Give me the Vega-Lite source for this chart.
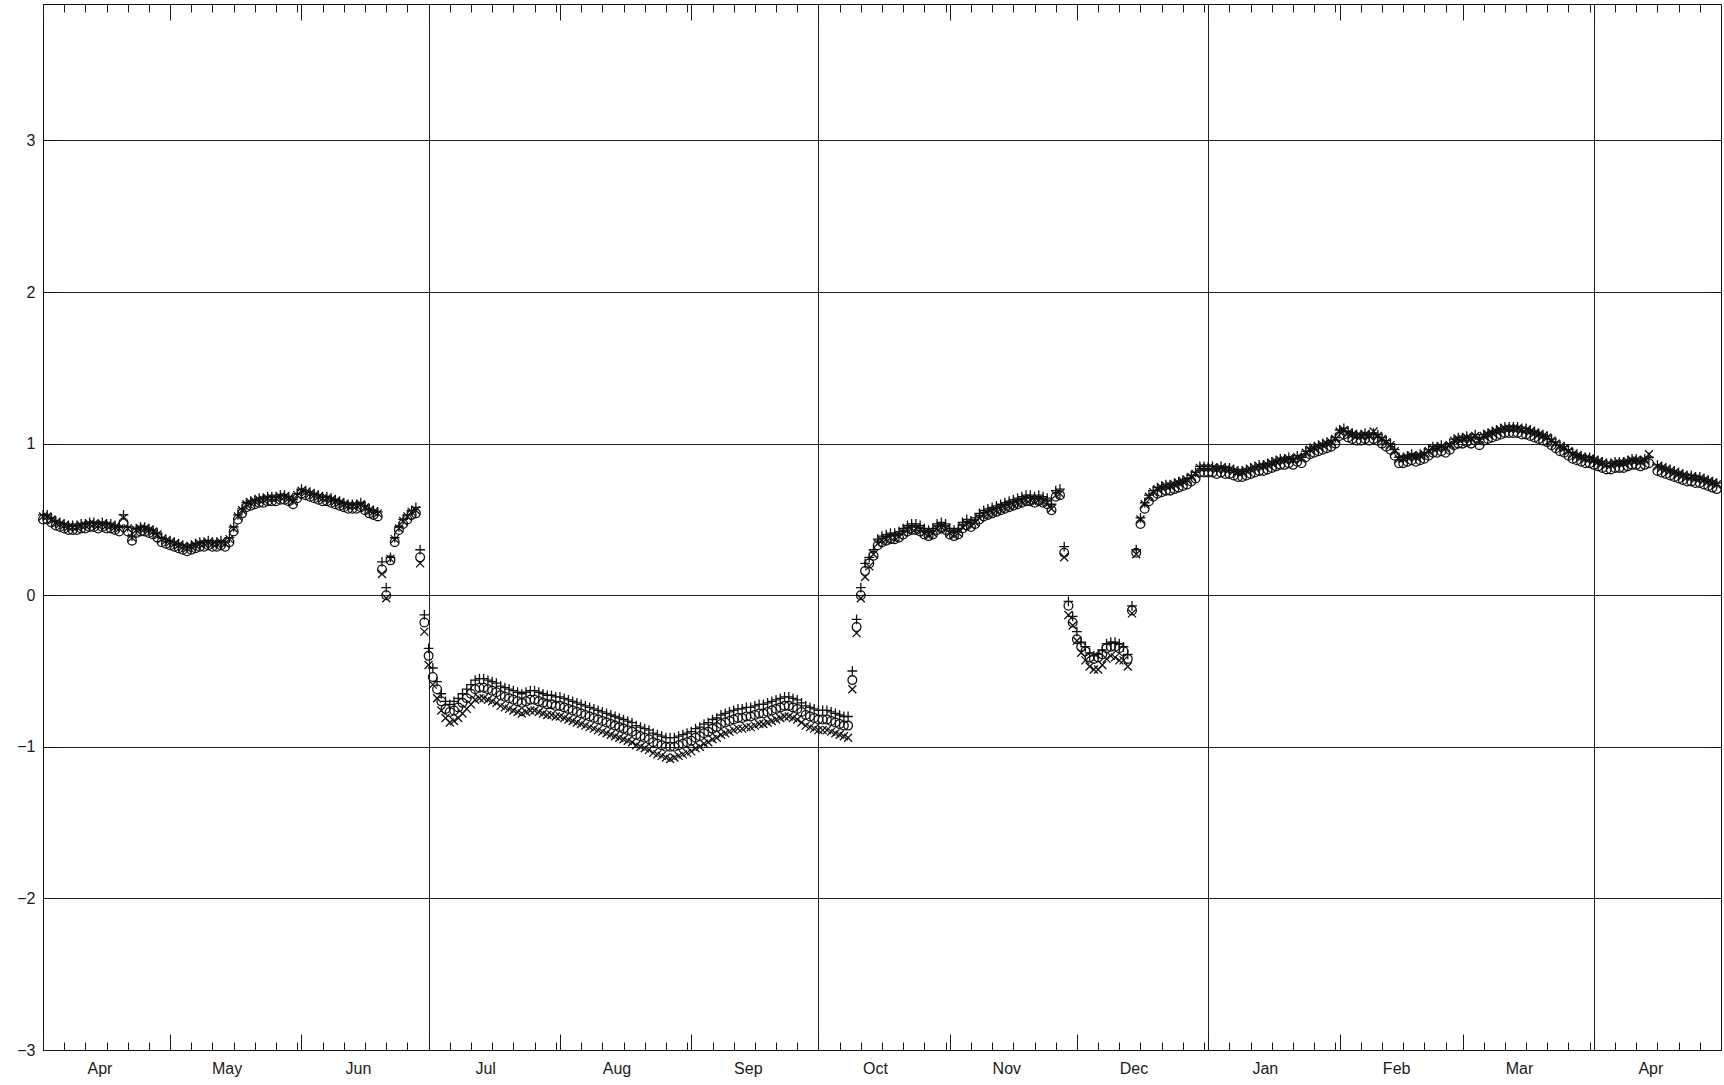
{
"$schema": "https://vega.github.io/schema/vega-lite/v6.json",
"width": 1678, "height": 1046,
"autosize": {"type": "none"},
"padding": {"left": 43, "top": 4, "right": 3, "bottom": 35},
"background": "white",
"config": {
 "view": {"stroke": "#111", "strokeWidth": 1},
 "axis": {"domain": false, "title": null, "labelFont": "Liberation Sans", "labelFontSize": 16, "labelColor": "#1a1a1a", "tickColor": "#1a1a1a", "tickWidth": 1, "gridColor": "#222", "gridWidth": 1, "gridOpacity": 1, "labelOverlap": false, "labelFlush": false, "labelBound": false}
},
"data": {"values": [
{"d":"2011-04-01","p":0.53,"o":0.50,"x":0.52},
{"d":"2011-04-02","p":0.53,"o":0.50,"x":0.52},
{"d":"2011-04-03","p":0.51,"o":0.48,"x":0.50},
{"d":"2011-04-04","p":0.49,"o":0.46,"x":0.48},
{"d":"2011-04-05","p":0.48,"o":0.45,"x":0.47},
{"d":"2011-04-06","p":0.47,"o":0.44,"x":0.46},
{"d":"2011-04-07","p":0.46,"o":0.43,"x":0.45},
{"d":"2011-04-08","p":0.46,"o":0.43,"x":0.45},
{"d":"2011-04-09","p":0.46,"o":0.43,"x":0.45},
{"d":"2011-04-10","p":0.47,"o":0.44,"x":0.46},
{"d":"2011-04-11","p":0.47,"o":0.44,"x":0.46},
{"d":"2011-04-12","p":0.48,"o":0.45,"x":0.47},
{"d":"2011-04-13","p":0.48,"o":0.45,"x":0.47},
{"d":"2011-04-14","p":0.47,"o":0.44,"x":0.46},
{"d":"2011-04-15","p":0.48,"o":0.45,"x":0.47},
{"d":"2011-04-16","p":0.47,"o":0.44,"x":0.46},
{"d":"2011-04-17","p":0.47,"o":0.44,"x":0.46},
{"d":"2011-04-18","p":0.46,"o":0.43,"x":0.45},
{"d":"2011-04-19","p":0.45,"o":0.42,"x":0.44},
{"d":"2011-04-20","p":0.53,"o":0.48,"x":0.51},
{"d":"2011-04-21","p":0.45,"o":0.42,"x":0.44},
{"d":"2011-04-22","p":0.39,"o":0.36,"x":0.38},
{"d":"2011-04-23","p":0.44,"o":0.41,"x":0.43},
{"d":"2011-04-24","p":0.45,"o":0.42,"x":0.44},
{"d":"2011-04-25","p":0.45,"o":0.42,"x":0.44},
{"d":"2011-04-26","p":0.44,"o":0.41,"x":0.43},
{"d":"2011-04-27","p":0.43,"o":0.40,"x":0.42},
{"d":"2011-04-28","p":0.41,"o":0.38,"x":0.40},
{"d":"2011-04-29","p":0.38,"o":0.35,"x":0.37},
{"d":"2011-04-30","p":0.37,"o":0.34,"x":0.36},
{"d":"2011-05-01","p":0.36,"o":0.33,"x":0.35},
{"d":"2011-05-02","p":0.35,"o":0.32,"x":0.34},
{"d":"2011-05-03","p":0.34,"o":0.31,"x":0.33},
{"d":"2011-05-04","p":0.33,"o":0.30,"x":0.32},
{"d":"2011-05-05","p":0.32,"o":0.29,"x":0.31},
{"d":"2011-05-06","p":0.33,"o":0.30,"x":0.32},
{"d":"2011-05-07","p":0.34,"o":0.31,"x":0.33},
{"d":"2011-05-08","p":0.35,"o":0.32,"x":0.34},
{"d":"2011-05-09","p":0.35,"o":0.32,"x":0.34},
{"d":"2011-05-10","p":0.36,"o":0.33,"x":0.35},
{"d":"2011-05-11","p":0.35,"o":0.32,"x":0.34},
{"d":"2011-05-12","p":0.35,"o":0.32,"x":0.34},
{"d":"2011-05-13","p":0.36,"o":0.33,"x":0.35},
{"d":"2011-05-14","p":0.35,"o":0.32,"x":0.34},
{"d":"2011-05-15","p":0.38,"o":0.35,"x":0.37},
{"d":"2011-05-16","p":0.45,"o":0.42,"x":0.44},
{"d":"2011-05-17","p":0.53,"o":0.50,"x":0.52},
{"d":"2011-05-18","p":0.57,"o":0.54,"x":0.56},
{"d":"2011-05-19","p":0.61,"o":0.58,"x":0.60},
{"d":"2011-05-20","p":0.62,"o":0.59,"x":0.61},
{"d":"2011-05-21","p":0.63,"o":0.60,"x":0.62},
{"d":"2011-05-22","p":0.64,"o":0.61,"x":0.63},
{"d":"2011-05-23","p":0.64,"o":0.61,"x":0.63},
{"d":"2011-05-24","p":0.65,"o":0.62,"x":0.64},
{"d":"2011-05-25","p":0.65,"o":0.62,"x":0.64},
{"d":"2011-05-26","p":0.65,"o":0.62,"x":0.64},
{"d":"2011-05-27","p":0.66,"o":0.63,"x":0.65},
{"d":"2011-05-28","p":0.66,"o":0.63,"x":0.65},
{"d":"2011-05-29","p":0.65,"o":0.62,"x":0.64},
{"d":"2011-05-30","p":0.63,"o":0.60,"x":0.62},
{"d":"2011-05-31","p":0.67,"o":0.64,"x":0.66},
{"d":"2011-06-01","p":0.70,"o":0.67,"x":0.69},
{"d":"2011-06-02","p":0.69,"o":0.66,"x":0.68},
{"d":"2011-06-03","p":0.68,"o":0.65,"x":0.67},
{"d":"2011-06-04","p":0.67,"o":0.64,"x":0.66},
{"d":"2011-06-05","p":0.66,"o":0.63,"x":0.65},
{"d":"2011-06-06","p":0.65,"o":0.62,"x":0.64},
{"d":"2011-06-07","p":0.65,"o":0.62,"x":0.64},
{"d":"2011-06-08","p":0.64,"o":0.61,"x":0.63},
{"d":"2011-06-09","p":0.63,"o":0.60,"x":0.62},
{"d":"2011-06-10","p":0.62,"o":0.59,"x":0.61},
{"d":"2011-06-11","p":0.61,"o":0.58,"x":0.60},
{"d":"2011-06-12","p":0.60,"o":0.57,"x":0.59},
{"d":"2011-06-13","p":0.60,"o":0.57,"x":0.59},
{"d":"2011-06-14","p":0.60,"o":0.57,"x":0.59},
{"d":"2011-06-15","p":0.61,"o":0.58,"x":0.60},
{"d":"2011-06-16","p":0.59,"o":0.56,"x":0.58},
{"d":"2011-06-17","p":0.57,"o":0.54,"x":0.56},
{"d":"2011-06-18","p":0.56,"o":0.53,"x":0.55},
{"d":"2011-06-19","p":0.55,"o":0.52,"x":0.54},
{"d":"2011-06-20","p":0.22,"o":0.17,"x":0.14},
{"d":"2011-06-21","p":0.05,"o":0.00,"x":-0.02},
{"d":"2011-06-22","p":0.25,"o":0.23,"x":0.24},
{"d":"2011-06-23","p":0.38,"o":0.35,"x":0.37},
{"d":"2011-06-24","p":0.45,"o":0.43,"x":0.44},
{"d":"2011-06-25","p":0.50,"o":0.47,"x":0.49},
{"d":"2011-06-26","p":0.53,"o":0.50,"x":0.52},
{"d":"2011-06-27","p":0.56,"o":0.53,"x":0.55},
{"d":"2011-06-28","p":0.58,"o":0.54,"x":0.56},
{"d":"2011-06-29","p":0.30,"o":0.25,"x":0.21},
{"d":"2011-06-30","p":-0.13,"o":-0.18,"x":-0.24},
{"d":"2011-07-01","p":-0.35,"o":-0.40,"x":-0.46},
{"d":"2011-07-02","p":-0.48,"o":-0.54,"x":-0.59},
{"d":"2011-07-03","p":-0.57,"o":-0.62,"x":-0.68},
{"d":"2011-07-04","p":-0.65,"o":-0.70,"x":-0.76},
{"d":"2011-07-05","p":-0.70,"o":-0.75,"x":-0.81},
{"d":"2011-07-06","p":-0.72,"o":-0.77,"x":-0.84},
{"d":"2011-07-07","p":-0.70,"o":-0.76,"x":-0.83},
{"d":"2011-07-08","p":-0.68,"o":-0.74,"x":-0.81},
{"d":"2011-07-09","p":-0.65,"o":-0.71,"x":-0.78},
{"d":"2011-07-10","p":-0.62,"o":-0.68,"x":-0.75},
{"d":"2011-07-11","p":-0.59,"o":-0.65,"x":-0.72},
{"d":"2011-07-12","p":-0.56,"o":-0.62,"x":-0.69},
{"d":"2011-07-13","p":-0.55,"o":-0.61,"x":-0.68},
{"d":"2011-07-14","p":-0.55,"o":-0.61,"x":-0.68},
{"d":"2011-07-15","p":-0.56,"o":-0.62,"x":-0.69},
{"d":"2011-07-16","p":-0.57,"o":-0.63,"x":-0.70},
{"d":"2011-07-17","p":-0.58,"o":-0.64,"x":-0.71},
{"d":"2011-07-18","p":-0.60,"o":-0.66,"x":-0.73},
{"d":"2011-07-19","p":-0.61,"o":-0.67,"x":-0.74},
{"d":"2011-07-20","p":-0.62,"o":-0.68,"x":-0.75},
{"d":"2011-07-21","p":-0.63,"o":-0.69,"x":-0.76},
{"d":"2011-07-22","p":-0.64,"o":-0.70,"x":-0.77},
{"d":"2011-07-23","p":-0.65,"o":-0.71,"x":-0.78},
{"d":"2011-07-24","p":-0.64,"o":-0.70,"x":-0.77},
{"d":"2011-07-25","p":-0.63,"o":-0.69,"x":-0.76},
{"d":"2011-07-26","p":-0.63,"o":-0.69,"x":-0.76},
{"d":"2011-07-27","p":-0.64,"o":-0.70,"x":-0.77},
{"d":"2011-07-28","p":-0.65,"o":-0.71,"x":-0.78},
{"d":"2011-07-29","p":-0.66,"o":-0.72,"x":-0.79},
{"d":"2011-07-30","p":-0.66,"o":-0.72,"x":-0.79},
{"d":"2011-07-31","p":-0.67,"o":-0.73,"x":-0.80},
{"d":"2011-08-01","p":-0.67,"o":-0.73,"x":-0.80},
{"d":"2011-08-02","p":-0.68,"o":-0.74,"x":-0.81},
{"d":"2011-08-03","p":-0.69,"o":-0.75,"x":-0.82},
{"d":"2011-08-04","p":-0.70,"o":-0.76,"x":-0.83},
{"d":"2011-08-05","p":-0.71,"o":-0.77,"x":-0.84},
{"d":"2011-08-06","p":-0.72,"o":-0.78,"x":-0.85},
{"d":"2011-08-07","p":-0.73,"o":-0.79,"x":-0.86},
{"d":"2011-08-08","p":-0.74,"o":-0.80,"x":-0.87},
{"d":"2011-08-09","p":-0.75,"o":-0.81,"x":-0.88},
{"d":"2011-08-10","p":-0.76,"o":-0.82,"x":-0.89},
{"d":"2011-08-11","p":-0.77,"o":-0.83,"x":-0.90},
{"d":"2011-08-12","p":-0.78,"o":-0.84,"x":-0.91},
{"d":"2011-08-13","p":-0.79,"o":-0.85,"x":-0.92},
{"d":"2011-08-14","p":-0.80,"o":-0.86,"x":-0.93},
{"d":"2011-08-15","p":-0.81,"o":-0.87,"x":-0.94},
{"d":"2011-08-16","p":-0.82,"o":-0.88,"x":-0.95},
{"d":"2011-08-17","p":-0.83,"o":-0.89,"x":-0.96},
{"d":"2011-08-18","p":-0.84,"o":-0.90,"x":-0.97},
{"d":"2011-08-19","p":-0.86,"o":-0.92,"x":-0.99},
{"d":"2011-08-20","p":-0.87,"o":-0.93,"x":-1.00},
{"d":"2011-08-21","p":-0.88,"o":-0.94,"x":-1.01},
{"d":"2011-08-22","p":-0.89,"o":-0.95,"x":-1.02},
{"d":"2011-08-23","p":-0.91,"o":-0.97,"x":-1.04},
{"d":"2011-08-24","p":-0.92,"o":-0.98,"x":-1.05},
{"d":"2011-08-25","p":-0.93,"o":-0.99,"x":-1.06},
{"d":"2011-08-26","p":-0.94,"o":-1.00,"x":-1.07},
{"d":"2011-08-27","p":-0.94,"o":-1.00,"x":-1.08},
{"d":"2011-08-28","p":-0.94,"o":-1.00,"x":-1.07},
{"d":"2011-08-29","p":-0.93,"o":-0.99,"x":-1.06},
{"d":"2011-08-30","p":-0.92,"o":-0.98,"x":-1.05},
{"d":"2011-08-31","p":-0.91,"o":-0.97,"x":-1.04},
{"d":"2011-09-01","p":-0.90,"o":-0.96,"x":-1.03},
{"d":"2011-09-02","p":-0.88,"o":-0.94,"x":-1.01},
{"d":"2011-09-03","p":-0.87,"o":-0.93,"x":-1.00},
{"d":"2011-09-04","p":-0.85,"o":-0.91,"x":-0.98},
{"d":"2011-09-05","p":-0.84,"o":-0.90,"x":-0.97},
{"d":"2011-09-06","p":-0.82,"o":-0.88,"x":-0.95},
{"d":"2011-09-07","p":-0.81,"o":-0.87,"x":-0.94},
{"d":"2011-09-08","p":-0.79,"o":-0.85,"x":-0.92},
{"d":"2011-09-09","p":-0.78,"o":-0.84,"x":-0.91},
{"d":"2011-09-10","p":-0.77,"o":-0.83,"x":-0.90},
{"d":"2011-09-11","p":-0.76,"o":-0.82,"x":-0.89},
{"d":"2011-09-12","p":-0.75,"o":-0.81,"x":-0.88},
{"d":"2011-09-13","p":-0.75,"o":-0.81,"x":-0.88},
{"d":"2011-09-14","p":-0.74,"o":-0.80,"x":-0.87},
{"d":"2011-09-15","p":-0.74,"o":-0.80,"x":-0.87},
{"d":"2011-09-16","p":-0.73,"o":-0.79,"x":-0.86},
{"d":"2011-09-17","p":-0.72,"o":-0.78,"x":-0.85},
{"d":"2011-09-18","p":-0.72,"o":-0.78,"x":-0.85},
{"d":"2011-09-19","p":-0.71,"o":-0.77,"x":-0.84},
{"d":"2011-09-20","p":-0.70,"o":-0.76,"x":-0.83},
{"d":"2011-09-21","p":-0.69,"o":-0.75,"x":-0.82},
{"d":"2011-09-22","p":-0.68,"o":-0.74,"x":-0.81},
{"d":"2011-09-23","p":-0.67,"o":-0.73,"x":-0.80},
{"d":"2011-09-24","p":-0.67,"o":-0.73,"x":-0.80},
{"d":"2011-09-25","p":-0.68,"o":-0.74,"x":-0.81},
{"d":"2011-09-26","p":-0.69,"o":-0.75,"x":-0.82},
{"d":"2011-09-27","p":-0.71,"o":-0.77,"x":-0.84},
{"d":"2011-09-28","p":-0.73,"o":-0.79,"x":-0.86},
{"d":"2011-09-29","p":-0.74,"o":-0.80,"x":-0.87},
{"d":"2011-09-30","p":-0.75,"o":-0.81,"x":-0.88},
{"d":"2011-10-01","p":-0.76,"o":-0.82,"x":-0.89},
{"d":"2011-10-02","p":-0.76,"o":-0.82,"x":-0.89},
{"d":"2011-10-03","p":-0.76,"o":-0.82,"x":-0.89},
{"d":"2011-10-04","p":-0.77,"o":-0.83,"x":-0.90},
{"d":"2011-10-05","p":-0.78,"o":-0.84,"x":-0.91},
{"d":"2011-10-06","p":-0.79,"o":-0.85,"x":-0.92},
{"d":"2011-10-07","p":-0.80,"o":-0.86,"x":-0.93},
{"d":"2011-10-08","p":-0.80,"o":-0.86,"x":-0.94},
{"d":"2011-10-09","p":-0.50,"o":-0.56,"x":-0.62},
{"d":"2011-10-10","p":-0.16,"o":-0.21,"x":-0.25},
{"d":"2011-10-11","p":0.05,"o":0.00,"x":-0.02},
{"d":"2011-10-12","p":0.21,"o":0.16,"x":0.12},
{"d":"2011-10-13","p":0.25,"o":0.21,"x":0.19},
{"d":"2011-10-14","p":0.30,"o":0.26,"x":0.27},
{"d":"2011-10-15","p":0.37,"o":0.33,"x":0.34},
{"d":"2011-10-16","p":0.39,"o":0.35,"x":0.36},
{"d":"2011-10-17","p":0.40,"o":0.36,"x":0.37},
{"d":"2011-10-18","p":0.41,"o":0.37,"x":0.38},
{"d":"2011-10-19","p":0.41,"o":0.37,"x":0.38},
{"d":"2011-10-20","p":0.42,"o":0.38,"x":0.39},
{"d":"2011-10-21","p":0.44,"o":0.40,"x":0.41},
{"d":"2011-10-22","p":0.46,"o":0.42,"x":0.43},
{"d":"2011-10-23","p":0.47,"o":0.43,"x":0.44},
{"d":"2011-10-24","p":0.47,"o":0.43,"x":0.44},
{"d":"2011-10-25","p":0.46,"o":0.42,"x":0.43},
{"d":"2011-10-26","p":0.44,"o":0.40,"x":0.41},
{"d":"2011-10-27","p":0.43,"o":0.39,"x":0.40},
{"d":"2011-10-28","p":0.44,"o":0.40,"x":0.41},
{"d":"2011-10-29","p":0.47,"o":0.43,"x":0.44},
{"d":"2011-10-30","p":0.48,"o":0.44,"x":0.45},
{"d":"2011-10-31","p":0.47,"o":0.43,"x":0.44},
{"d":"2011-11-01","p":0.44,"o":0.40,"x":0.41},
{"d":"2011-11-02","p":0.43,"o":0.39,"x":0.40},
{"d":"2011-11-03","p":0.44,"o":0.40,"x":0.41},
{"d":"2011-11-04","p":0.48,"o":0.44,"x":0.45},
{"d":"2011-11-05","p":0.50,"o":0.46,"x":0.47},
{"d":"2011-11-06","p":0.49,"o":0.45,"x":0.46},
{"d":"2011-11-07","p":0.51,"o":0.47,"x":0.48},
{"d":"2011-11-08","p":0.54,"o":0.50,"x":0.51},
{"d":"2011-11-09","p":0.56,"o":0.52,"x":0.53},
{"d":"2011-11-10","p":0.57,"o":0.53,"x":0.54},
{"d":"2011-11-11","p":0.58,"o":0.54,"x":0.55},
{"d":"2011-11-12","p":0.59,"o":0.55,"x":0.56},
{"d":"2011-11-13","p":0.60,"o":0.56,"x":0.57},
{"d":"2011-11-14","p":0.61,"o":0.57,"x":0.58},
{"d":"2011-11-15","p":0.62,"o":0.58,"x":0.59},
{"d":"2011-11-16","p":0.63,"o":0.59,"x":0.60},
{"d":"2011-11-17","p":0.64,"o":0.60,"x":0.61},
{"d":"2011-11-18","p":0.65,"o":0.61,"x":0.62},
{"d":"2011-11-19","p":0.66,"o":0.62,"x":0.63},
{"d":"2011-11-20","p":0.66,"o":0.62,"x":0.63},
{"d":"2011-11-21","p":0.65,"o":0.61,"x":0.62},
{"d":"2011-11-22","p":0.66,"o":0.62,"x":0.63},
{"d":"2011-11-23","p":0.65,"o":0.61,"x":0.62},
{"d":"2011-11-24","p":0.64,"o":0.60,"x":0.61},
{"d":"2011-11-25","p":0.60,"o":0.56,"x":0.57},
{"d":"2011-11-26","p":0.69,"o":0.65,"x":0.66},
{"d":"2011-11-27","p":0.70,"o":0.66,"x":0.67},
{"d":"2011-11-28","p":0.32,"o":0.28,"x":0.25},
{"d":"2011-11-29","p":-0.04,"o":-0.07,"x":-0.13},
{"d":"2011-11-30","p":-0.14,"o":-0.18,"x":-0.20},
{"d":"2011-12-01","p":-0.24,"o":-0.29,"x":-0.30},
{"d":"2011-12-02","p":-0.31,"o":-0.34,"x":-0.38},
{"d":"2011-12-03","p":-0.34,"o":-0.37,"x":-0.43},
{"d":"2011-12-04","p":-0.38,"o":-0.41,"x":-0.47},
{"d":"2011-12-05","p":-0.40,"o":-0.42,"x":-0.49},
{"d":"2011-12-06","p":-0.39,"o":-0.41,"x":-0.49},
{"d":"2011-12-07","p":-0.36,"o":-0.39,"x":-0.46},
{"d":"2011-12-08","p":-0.32,"o":-0.35,"x":-0.42},
{"d":"2011-12-09","p":-0.31,"o":-0.34,"x":-0.40},
{"d":"2011-12-10","p":-0.31,"o":-0.34,"x":-0.41},
{"d":"2011-12-11","p":-0.32,"o":-0.35,"x":-0.43},
{"d":"2011-12-12","p":-0.34,"o":-0.37,"x":-0.43},
{"d":"2011-12-13","p":-0.39,"o":-0.42,"x":-0.47},
{"d":"2011-12-14","p":-0.07,"o":-0.10,"x":-0.12},
{"d":"2011-12-15","p":0.30,"o":0.28,"x":0.27},
{"d":"2011-12-16","p":0.51,"o":0.47,"x":0.50},
{"d":"2011-12-17","p":0.61,"o":0.57,"x":0.60},
{"d":"2011-12-18","p":0.66,"o":0.62,"x":0.65},
{"d":"2011-12-19","p":0.69,"o":0.65,"x":0.68},
{"d":"2011-12-20","p":0.71,"o":0.67,"x":0.70},
{"d":"2011-12-21","p":0.72,"o":0.68,"x":0.71},
{"d":"2011-12-22","p":0.73,"o":0.69,"x":0.72},
{"d":"2011-12-23","p":0.73,"o":0.69,"x":0.72},
{"d":"2011-12-24","p":0.74,"o":0.70,"x":0.73},
{"d":"2011-12-25","p":0.75,"o":0.71,"x":0.74},
{"d":"2011-12-26","p":0.76,"o":0.72,"x":0.75},
{"d":"2011-12-27","p":0.77,"o":0.73,"x":0.76},
{"d":"2011-12-28","p":0.79,"o":0.75,"x":0.78},
{"d":"2011-12-29","p":0.81,"o":0.77,"x":0.80},
{"d":"2011-12-30","p":0.85,"o":0.81,"x":0.84},
{"d":"2011-12-31","p":0.85,"o":0.81,"x":0.84},
{"d":"2012-01-01","p":0.85,"o":0.81,"x":0.84},
{"d":"2012-01-02","p":0.85,"o":0.81,"x":0.84},
{"d":"2012-01-03","p":0.84,"o":0.80,"x":0.83},
{"d":"2012-01-04","p":0.85,"o":0.81,"x":0.84},
{"d":"2012-01-05","p":0.84,"o":0.80,"x":0.83},
{"d":"2012-01-06","p":0.84,"o":0.80,"x":0.83},
{"d":"2012-01-07","p":0.83,"o":0.79,"x":0.82},
{"d":"2012-01-08","p":0.82,"o":0.78,"x":0.81},
{"d":"2012-01-09","p":0.82,"o":0.78,"x":0.81},
{"d":"2012-01-10","p":0.83,"o":0.79,"x":0.82},
{"d":"2012-01-11","p":0.84,"o":0.80,"x":0.83},
{"d":"2012-01-12","p":0.85,"o":0.81,"x":0.84},
{"d":"2012-01-13","p":0.86,"o":0.82,"x":0.85},
{"d":"2012-01-14","p":0.86,"o":0.82,"x":0.85},
{"d":"2012-01-15","p":0.87,"o":0.83,"x":0.86},
{"d":"2012-01-16","p":0.88,"o":0.84,"x":0.87},
{"d":"2012-01-17","p":0.89,"o":0.85,"x":0.88},
{"d":"2012-01-18","p":0.90,"o":0.86,"x":0.89},
{"d":"2012-01-19","p":0.90,"o":0.86,"x":0.89},
{"d":"2012-01-20","p":0.91,"o":0.87,"x":0.90},
{"d":"2012-01-21","p":0.90,"o":0.86,"x":0.89},
{"d":"2012-01-22","p":0.92,"o":0.88,"x":0.91},
{"d":"2012-01-23","p":0.91,"o":0.87,"x":0.90},
{"d":"2012-01-24","p":0.95,"o":0.91,"x":0.94},
{"d":"2012-01-25","p":0.97,"o":0.93,"x":0.96},
{"d":"2012-01-26","p":0.98,"o":0.94,"x":0.97},
{"d":"2012-01-27","p":0.99,"o":0.95,"x":0.98},
{"d":"2012-01-28","p":1.00,"o":0.96,"x":0.99},
{"d":"2012-01-29","p":1.01,"o":0.97,"x":1.00},
{"d":"2012-01-30","p":1.02,"o":0.98,"x":1.01},
{"d":"2012-01-31","p":1.04,"o":1.00,"x":1.03},
{"d":"2012-02-01","p":1.09,"o":1.05,"x":1.08},
{"d":"2012-02-02","p":1.10,"o":1.06,"x":1.09},
{"d":"2012-02-03","p":1.08,"o":1.04,"x":1.07},
{"d":"2012-02-04","p":1.07,"o":1.03,"x":1.06},
{"d":"2012-02-05","p":1.06,"o":1.02,"x":1.05},
{"d":"2012-02-06","p":1.06,"o":1.02,"x":1.05},
{"d":"2012-02-07","p":1.07,"o":1.03,"x":1.06},
{"d":"2012-02-08","p":1.06,"o":1.02,"x":1.05},
{"d":"2012-02-09","p":1.07,"o":1.03,"x":1.08},
{"d":"2012-02-10","p":1.06,"o":1.02,"x":1.05},
{"d":"2012-02-11","p":1.04,"o":1.00,"x":1.03},
{"d":"2012-02-12","p":1.02,"o":0.98,"x":1.01},
{"d":"2012-02-13","p":1.00,"o":0.96,"x":0.99},
{"d":"2012-02-14","p":0.96,"o":0.92,"x":0.95},
{"d":"2012-02-15","p":0.91,"o":0.87,"x":0.90},
{"d":"2012-02-16","p":0.91,"o":0.87,"x":0.90},
{"d":"2012-02-17","p":0.92,"o":0.88,"x":0.91},
{"d":"2012-02-18","p":0.93,"o":0.89,"x":0.92},
{"d":"2012-02-19","p":0.92,"o":0.88,"x":0.91},
{"d":"2012-02-20","p":0.93,"o":0.89,"x":0.92},
{"d":"2012-02-21","p":0.94,"o":0.90,"x":0.93},
{"d":"2012-02-22","p":0.96,"o":0.92,"x":0.95},
{"d":"2012-02-23","p":0.98,"o":0.94,"x":0.97},
{"d":"2012-02-24","p":0.98,"o":0.94,"x":0.97},
{"d":"2012-02-25","p":0.99,"o":0.95,"x":0.98},
{"d":"2012-02-26","p":0.98,"o":0.94,"x":0.97},
{"d":"2012-02-27","p":1.00,"o":0.96,"x":0.99},
{"d":"2012-02-28","p":1.03,"o":0.99,"x":1.02},
{"d":"2012-02-29","p":1.04,"o":1.00,"x":1.03},
{"d":"2012-03-01","p":1.04,"o":1.00,"x":1.03},
{"d":"2012-03-02","p":1.05,"o":1.01,"x":1.04},
{"d":"2012-03-03","p":1.04,"o":1.00,"x":1.03},
{"d":"2012-03-04","p":1.06,"o":1.02,"x":1.05},
{"d":"2012-03-05","p":1.03,"o":0.99,"x":1.02},
{"d":"2012-03-06","p":1.06,"o":1.02,"x":1.05},
{"d":"2012-03-07","p":1.07,"o":1.03,"x":1.06},
{"d":"2012-03-08","p":1.08,"o":1.04,"x":1.07},
{"d":"2012-03-09","p":1.09,"o":1.05,"x":1.08},
{"d":"2012-03-10","p":1.10,"o":1.06,"x":1.09},
{"d":"2012-03-11","p":1.11,"o":1.07,"x":1.10},
{"d":"2012-03-12","p":1.11,"o":1.07,"x":1.10},
{"d":"2012-03-13","p":1.11,"o":1.07,"x":1.10},
{"d":"2012-03-14","p":1.11,"o":1.07,"x":1.10},
{"d":"2012-03-15","p":1.10,"o":1.06,"x":1.09},
{"d":"2012-03-16","p":1.10,"o":1.06,"x":1.09},
{"d":"2012-03-17","p":1.09,"o":1.05,"x":1.08},
{"d":"2012-03-18","p":1.08,"o":1.04,"x":1.07},
{"d":"2012-03-19","p":1.07,"o":1.03,"x":1.06},
{"d":"2012-03-20","p":1.06,"o":1.02,"x":1.05},
{"d":"2012-03-21","p":1.05,"o":1.01,"x":1.04},
{"d":"2012-03-22","p":1.03,"o":0.99,"x":1.02},
{"d":"2012-03-23","p":1.01,"o":0.97,"x":1.00},
{"d":"2012-03-24","p":0.99,"o":0.95,"x":0.98},
{"d":"2012-03-25","p":0.98,"o":0.94,"x":0.97},
{"d":"2012-03-26","p":0.96,"o":0.92,"x":0.95},
{"d":"2012-03-27","p":0.94,"o":0.90,"x":0.93},
{"d":"2012-03-28","p":0.93,"o":0.89,"x":0.92},
{"d":"2012-03-29","p":0.92,"o":0.88,"x":0.91},
{"d":"2012-03-30","p":0.91,"o":0.87,"x":0.90},
{"d":"2012-03-31","p":0.91,"o":0.87,"x":0.90},
{"d":"2012-04-01","p":0.90,"o":0.86,"x":0.89},
{"d":"2012-04-02","p":0.89,"o":0.85,"x":0.88},
{"d":"2012-04-03","p":0.88,"o":0.84,"x":0.87},
{"d":"2012-04-04","p":0.87,"o":0.83,"x":0.86},
{"d":"2012-04-05","p":0.87,"o":0.83,"x":0.86},
{"d":"2012-04-06","p":0.88,"o":0.84,"x":0.87},
{"d":"2012-04-07","p":0.88,"o":0.84,"x":0.87},
{"d":"2012-04-08","p":0.88,"o":0.84,"x":0.87},
{"d":"2012-04-09","p":0.89,"o":0.85,"x":0.88},
{"d":"2012-04-10","p":0.90,"o":0.86,"x":0.89},
{"d":"2012-04-11","p":0.90,"o":0.86,"x":0.89},
{"d":"2012-04-12","p":0.89,"o":0.85,"x":0.88},
{"d":"2012-04-13","p":0.90,"o":0.86,"x":0.89},
{"d":"2012-04-14","p":0.91,"o":0.87,"x":0.93},
{"d":"2012-04-16","p":0.86,"o":0.82,"x":0.85},
{"d":"2012-04-17","p":0.85,"o":0.81,"x":0.84},
{"d":"2012-04-18","p":0.84,"o":0.80,"x":0.83},
{"d":"2012-04-19","p":0.83,"o":0.79,"x":0.82},
{"d":"2012-04-20","p":0.82,"o":0.78,"x":0.81},
{"d":"2012-04-21","p":0.81,"o":0.77,"x":0.80},
{"d":"2012-04-22","p":0.80,"o":0.76,"x":0.79},
{"d":"2012-04-23","p":0.79,"o":0.75,"x":0.78},
{"d":"2012-04-24","p":0.79,"o":0.75,"x":0.78},
{"d":"2012-04-25","p":0.78,"o":0.74,"x":0.77},
{"d":"2012-04-26","p":0.78,"o":0.74,"x":0.77},
{"d":"2012-04-27","p":0.77,"o":0.73,"x":0.76},
{"d":"2012-04-28","p":0.76,"o":0.72,"x":0.75},
{"d":"2012-04-29","p":0.75,"o":0.71,"x":0.74},
{"d":"2012-04-30","p":0.74,"o":0.70,"x":0.73}
]},
"resolve": {"axis": {"x": "independent", "y": "independent"}},
"layer": [
{
 "mark": {"type": "point", "shape": "M-1,0L1,0M0,-1L0,1", "filled": false, "stroke": "#111", "strokeWidth": 1.3, "size": 95, "opacity": 1},
 "encoding": {
  "x": {"field": "d", "type": "temporal", "scale": {"type": "utc", "nice": false, "domain": [{"year": 2011, "month": 4, "date": 1, "utc": true}, {"year": 2012, "month": 5, "date": 1, "utc": true}]},
   "axis": {"orient": "bottom", "grid": false, "labels": false, "ticks": true, "tickSize": 16, "offset": -16,
    "values": [
     {"year":2011,"month":4,"date":1,"utc":true},{"year":2011,"month":5,"date":1,"utc":true},{"year":2011,"month":6,"date":1,"utc":true},{"year":2011,"month":7,"date":1,"utc":true},{"year":2011,"month":8,"date":1,"utc":true},{"year":2011,"month":9,"date":1,"utc":true},{"year":2011,"month":10,"date":1,"utc":true},{"year":2011,"month":11,"date":1,"utc":true},{"year":2011,"month":12,"date":1,"utc":true},{"year":2012,"month":1,"date":1,"utc":true},{"year":2012,"month":2,"date":1,"utc":true},{"year":2012,"month":3,"date":1,"utc":true},{"year":2012,"month":4,"date":1,"utc":true},{"year":2012,"month":5,"date":1,"utc":true}
    ]}},
  "y": {"field": "p", "type": "quantitative", "scale": {"domain": [-3, 3.9], "nice": false, "zero": false},
   "axis": {"orient": "left", "grid": false, "ticks": false, "tickSize": 0, "labelPadding": 8, "values": [-3, -2, -1, 0, 1, 2, 3], "format": "d"}}
 }
},
{
 "mark": {"type": "point", "shape": "circle", "filled": false, "stroke": "#111", "strokeWidth": 1.3, "size": 76, "opacity": 1},
 "encoding": {
  "x": {"field": "d", "type": "temporal", "scale": {"type": "utc", "nice": false, "domain": [{"year": 2011, "month": 4, "date": 1, "utc": true}, {"year": 2012, "month": 5, "date": 1, "utc": true}]},
   "axis": {"orient": "bottom", "grid": false, "labels": false, "ticks": true, "tickSize": 8, "offset": -8,
    "values": [
     {"year":2011,"month":4,"date":6,"utc":true},{"year":2011,"month":4,"date":11,"utc":true},{"year":2011,"month":4,"date":16,"utc":true},{"year":2011,"month":4,"date":21,"utc":true},{"year":2011,"month":4,"date":26,"utc":true},
     {"year":2011,"month":5,"date":6,"utc":true},{"year":2011,"month":5,"date":11,"utc":true},{"year":2011,"month":5,"date":16,"utc":true},{"year":2011,"month":5,"date":21,"utc":true},{"year":2011,"month":5,"date":26,"utc":true},{"year":2011,"month":5,"date":31,"utc":true},
     {"year":2011,"month":6,"date":6,"utc":true},{"year":2011,"month":6,"date":11,"utc":true},{"year":2011,"month":6,"date":16,"utc":true},{"year":2011,"month":6,"date":21,"utc":true},{"year":2011,"month":6,"date":26,"utc":true},
     {"year":2011,"month":7,"date":6,"utc":true},{"year":2011,"month":7,"date":11,"utc":true},{"year":2011,"month":7,"date":16,"utc":true},{"year":2011,"month":7,"date":21,"utc":true},{"year":2011,"month":7,"date":26,"utc":true},{"year":2011,"month":7,"date":31,"utc":true},
     {"year":2011,"month":8,"date":6,"utc":true},{"year":2011,"month":8,"date":11,"utc":true},{"year":2011,"month":8,"date":16,"utc":true},{"year":2011,"month":8,"date":21,"utc":true},{"year":2011,"month":8,"date":26,"utc":true},{"year":2011,"month":8,"date":31,"utc":true},
     {"year":2011,"month":9,"date":6,"utc":true},{"year":2011,"month":9,"date":11,"utc":true},{"year":2011,"month":9,"date":16,"utc":true},{"year":2011,"month":9,"date":21,"utc":true},{"year":2011,"month":9,"date":26,"utc":true},
     {"year":2011,"month":10,"date":6,"utc":true},{"year":2011,"month":10,"date":11,"utc":true},{"year":2011,"month":10,"date":16,"utc":true},{"year":2011,"month":10,"date":21,"utc":true},{"year":2011,"month":10,"date":26,"utc":true},{"year":2011,"month":10,"date":31,"utc":true},
     {"year":2011,"month":11,"date":6,"utc":true},{"year":2011,"month":11,"date":11,"utc":true},{"year":2011,"month":11,"date":16,"utc":true},{"year":2011,"month":11,"date":21,"utc":true},{"year":2011,"month":11,"date":26,"utc":true},
     {"year":2011,"month":12,"date":6,"utc":true},{"year":2011,"month":12,"date":11,"utc":true},{"year":2011,"month":12,"date":16,"utc":true},{"year":2011,"month":12,"date":21,"utc":true},{"year":2011,"month":12,"date":26,"utc":true},{"year":2011,"month":12,"date":31,"utc":true},
     {"year":2012,"month":1,"date":6,"utc":true},{"year":2012,"month":1,"date":11,"utc":true},{"year":2012,"month":1,"date":16,"utc":true},{"year":2012,"month":1,"date":21,"utc":true},{"year":2012,"month":1,"date":26,"utc":true},{"year":2012,"month":1,"date":31,"utc":true},
     {"year":2012,"month":2,"date":6,"utc":true},{"year":2012,"month":2,"date":11,"utc":true},{"year":2012,"month":2,"date":16,"utc":true},{"year":2012,"month":2,"date":21,"utc":true},{"year":2012,"month":2,"date":26,"utc":true},
     {"year":2012,"month":3,"date":6,"utc":true},{"year":2012,"month":3,"date":11,"utc":true},{"year":2012,"month":3,"date":16,"utc":true},{"year":2012,"month":3,"date":21,"utc":true},{"year":2012,"month":3,"date":26,"utc":true},{"year":2012,"month":3,"date":31,"utc":true},
     {"year":2012,"month":4,"date":6,"utc":true},{"year":2012,"month":4,"date":11,"utc":true},{"year":2012,"month":4,"date":16,"utc":true},{"year":2012,"month":4,"date":21,"utc":true},{"year":2012,"month":4,"date":26,"utc":true}
    ]}},
  "y": {"field": "o", "type": "quantitative", "scale": {"domain": [-3, 3.9], "nice": false, "zero": false},
   "axis": {"orient": "left", "grid": false, "labels": false, "ticks": true, "tickSize": 16, "offset": -16, "values": [-3, -2, -1, 0, 1, 2, 3]}}
 }
},
{
 "mark": {"type": "point", "shape": "M-1,-1L1,1M-1,1L1,-1", "filled": false, "stroke": "#111", "strokeWidth": 1.3, "size": 64, "opacity": 1},
 "encoding": {
  "x": {"field": "d", "type": "temporal", "scale": {"type": "utc", "nice": false, "domain": [{"year": 2011, "month": 4, "date": 1, "utc": true}, {"year": 2012, "month": 5, "date": 1, "utc": true}]},
   "axis": {"orient": "bottom", "grid": false, "labels": true, "ticks": false, "tickSize": 0, "labelPadding": 10, "format": "%b",
    "values": [
     {"year":2011,"month":4,"date":14,"hours":8,"utc":true},{"year":2011,"month":5,"date":14,"hours":8,"utc":true},{"year":2011,"month":6,"date":14,"hours":8,"utc":true},{"year":2011,"month":7,"date":14,"hours":8,"utc":true},{"year":2011,"month":8,"date":14,"hours":8,"utc":true},{"year":2011,"month":9,"date":14,"hours":8,"utc":true},{"year":2011,"month":10,"date":14,"hours":8,"utc":true},{"year":2011,"month":11,"date":14,"hours":8,"utc":true},{"year":2011,"month":12,"date":14,"hours":8,"utc":true},{"year":2012,"month":1,"date":14,"hours":8,"utc":true},{"year":2012,"month":2,"date":14,"hours":8,"utc":true},{"year":2012,"month":3,"date":14,"hours":8,"utc":true},{"year":2012,"month":4,"date":14,"hours":8,"utc":true}
    ]}},
  "y": {"field": "x", "type": "quantitative", "scale": {"domain": [-3, 3.9], "nice": false, "zero": false},
   "axis": {"orient": "left", "grid": true, "labels": false, "ticks": false, "values": [-2, -1, 0, 1, 2, 3]}}
 }
},
{
 "mark": {"type": "point", "opacity": 0},
 "encoding": {
  "x": {"field": "d", "type": "temporal", "scale": {"type": "utc", "nice": false, "domain": [{"year": 2011, "month": 4, "date": 1, "utc": true}, {"year": 2012, "month": 5, "date": 1, "utc": true}]},
   "axis": {"orient": "bottom", "grid": true, "labels": false, "ticks": false,
    "values": [{"year":2011,"month":7,"date":1,"utc":true},{"year":2011,"month":10,"date":1,"utc":true},{"year":2012,"month":1,"date":1,"utc":true},{"year":2012,"month":4,"date":1,"utc":true}]}},
  "y": {"field": "o", "type": "quantitative", "scale": {"domain": [-3, 3.9], "nice": false, "zero": false},
   "axis": {"orient": "right", "grid": false, "labels": false, "ticks": true, "tickSize": 16, "offset": -16, "values": [-3, -2, -1, 0, 1, 2, 3]}}
 }
},
{
 "mark": {"type": "point", "opacity": 0},
 "encoding": {
  "x": {"field": "d", "type": "temporal", "scale": {"type": "utc", "nice": false, "domain": [{"year": 2011, "month": 4, "date": 1, "utc": true}, {"year": 2012, "month": 5, "date": 1, "utc": true}]},
   "axis": {"orient": "top", "grid": false, "labels": false, "ticks": true, "tickSize": 16, "offset": -16,
    "values": [
     {"year":2011,"month":4,"date":1,"utc":true},{"year":2011,"month":5,"date":1,"utc":true},{"year":2011,"month":6,"date":1,"utc":true},{"year":2011,"month":7,"date":1,"utc":true},{"year":2011,"month":8,"date":1,"utc":true},{"year":2011,"month":9,"date":1,"utc":true},{"year":2011,"month":10,"date":1,"utc":true},{"year":2011,"month":11,"date":1,"utc":true},{"year":2011,"month":12,"date":1,"utc":true},{"year":2012,"month":1,"date":1,"utc":true},{"year":2012,"month":2,"date":1,"utc":true},{"year":2012,"month":3,"date":1,"utc":true},{"year":2012,"month":4,"date":1,"utc":true},{"year":2012,"month":5,"date":1,"utc":true}
    ]}},
  "y": {"field": "o", "type": "quantitative", "scale": {"domain": [-3, 3.9], "nice": false, "zero": false}, "axis": null}
 }
},
{
 "mark": {"type": "point", "opacity": 0},
 "encoding": {
  "x": {"field": "d", "type": "temporal", "scale": {"type": "utc", "nice": false, "domain": [{"year": 2011, "month": 4, "date": 1, "utc": true}, {"year": 2012, "month": 5, "date": 1, "utc": true}]},
   "axis": {"orient": "top", "grid": false, "labels": false, "ticks": true, "tickSize": 8, "offset": -8,
    "values": [
     {"year":2011,"month":4,"date":6,"utc":true},{"year":2011,"month":4,"date":11,"utc":true},{"year":2011,"month":4,"date":16,"utc":true},{"year":2011,"month":4,"date":21,"utc":true},{"year":2011,"month":4,"date":26,"utc":true},
     {"year":2011,"month":5,"date":6,"utc":true},{"year":2011,"month":5,"date":11,"utc":true},{"year":2011,"month":5,"date":16,"utc":true},{"year":2011,"month":5,"date":21,"utc":true},{"year":2011,"month":5,"date":26,"utc":true},{"year":2011,"month":5,"date":31,"utc":true},
     {"year":2011,"month":6,"date":6,"utc":true},{"year":2011,"month":6,"date":11,"utc":true},{"year":2011,"month":6,"date":16,"utc":true},{"year":2011,"month":6,"date":21,"utc":true},{"year":2011,"month":6,"date":26,"utc":true},
     {"year":2011,"month":7,"date":6,"utc":true},{"year":2011,"month":7,"date":11,"utc":true},{"year":2011,"month":7,"date":16,"utc":true},{"year":2011,"month":7,"date":21,"utc":true},{"year":2011,"month":7,"date":26,"utc":true},{"year":2011,"month":7,"date":31,"utc":true},
     {"year":2011,"month":8,"date":6,"utc":true},{"year":2011,"month":8,"date":11,"utc":true},{"year":2011,"month":8,"date":16,"utc":true},{"year":2011,"month":8,"date":21,"utc":true},{"year":2011,"month":8,"date":26,"utc":true},{"year":2011,"month":8,"date":31,"utc":true},
     {"year":2011,"month":9,"date":6,"utc":true},{"year":2011,"month":9,"date":11,"utc":true},{"year":2011,"month":9,"date":16,"utc":true},{"year":2011,"month":9,"date":21,"utc":true},{"year":2011,"month":9,"date":26,"utc":true},
     {"year":2011,"month":10,"date":6,"utc":true},{"year":2011,"month":10,"date":11,"utc":true},{"year":2011,"month":10,"date":16,"utc":true},{"year":2011,"month":10,"date":21,"utc":true},{"year":2011,"month":10,"date":26,"utc":true},{"year":2011,"month":10,"date":31,"utc":true},
     {"year":2011,"month":11,"date":6,"utc":true},{"year":2011,"month":11,"date":11,"utc":true},{"year":2011,"month":11,"date":16,"utc":true},{"year":2011,"month":11,"date":21,"utc":true},{"year":2011,"month":11,"date":26,"utc":true},
     {"year":2011,"month":12,"date":6,"utc":true},{"year":2011,"month":12,"date":11,"utc":true},{"year":2011,"month":12,"date":16,"utc":true},{"year":2011,"month":12,"date":21,"utc":true},{"year":2011,"month":12,"date":26,"utc":true},{"year":2011,"month":12,"date":31,"utc":true},
     {"year":2012,"month":1,"date":6,"utc":true},{"year":2012,"month":1,"date":11,"utc":true},{"year":2012,"month":1,"date":16,"utc":true},{"year":2012,"month":1,"date":21,"utc":true},{"year":2012,"month":1,"date":26,"utc":true},{"year":2012,"month":1,"date":31,"utc":true},
     {"year":2012,"month":2,"date":6,"utc":true},{"year":2012,"month":2,"date":11,"utc":true},{"year":2012,"month":2,"date":16,"utc":true},{"year":2012,"month":2,"date":21,"utc":true},{"year":2012,"month":2,"date":26,"utc":true},
     {"year":2012,"month":3,"date":6,"utc":true},{"year":2012,"month":3,"date":11,"utc":true},{"year":2012,"month":3,"date":16,"utc":true},{"year":2012,"month":3,"date":21,"utc":true},{"year":2012,"month":3,"date":26,"utc":true},{"year":2012,"month":3,"date":31,"utc":true},
     {"year":2012,"month":4,"date":6,"utc":true},{"year":2012,"month":4,"date":11,"utc":true},{"year":2012,"month":4,"date":16,"utc":true},{"year":2012,"month":4,"date":21,"utc":true},{"year":2012,"month":4,"date":26,"utc":true}
    ]}},
  "y": {"field": "o", "type": "quantitative", "scale": {"domain": [-3, 3.9], "nice": false, "zero": false}, "axis": null}
 }
}
]
}
